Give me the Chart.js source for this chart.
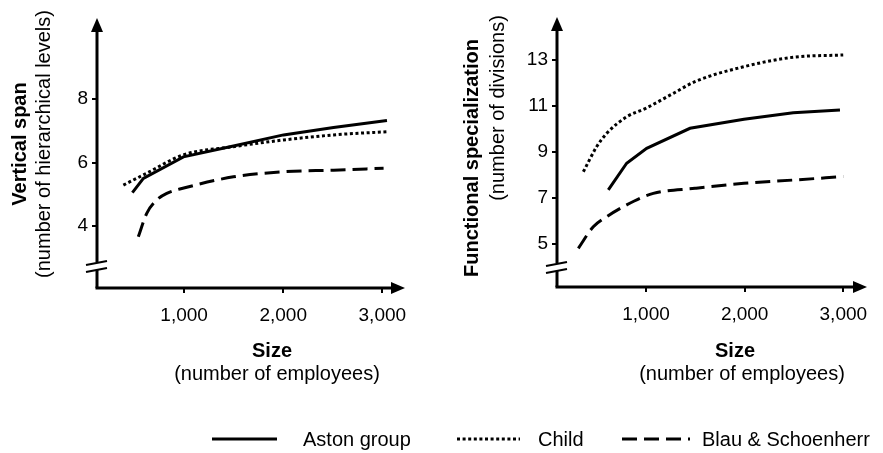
<!DOCTYPE html>
<html><head><meta charset="utf-8">
<script src="https://cdn.jsdelivr.net/npm/chart.js@4.4.1/dist/chart.umd.min.js"></script>
<style>
html,body{margin:0;padding:0;background:#fff;}
#wrap{position:relative;width:883px;height:453px;overflow:hidden;background:#fff;}
canvas{position:absolute;top:0;}
#c1{left:0;} #c2{left:440px;}
</style></head><body>
<div id="wrap">
<canvas id="c1" width="883" height="453"></canvas>
<canvas id="c2" width="443" height="453"></canvas>
</div>
<script>
// ---------- data ----------
const seriesNames = ['Aston group', 'Child', 'Blau & Schoenherr'];
const sizeTicks = [1000, 2000, 3000];
const sizeTickLabels = ['1,000', '2,000', '3,000'];

// Left panel: Vertical span (number of hierarchical levels)
const spanTicks = [4, 6, 8];
const spanAstonX = [478, 589, 993, 1498, 2003, 2508, 3047];
const spanAstonY = [5.05, 5.50, 6.18, 6.52, 6.87, 7.10, 7.32];
const spanChildX = [387, 589, 993, 1498, 2003, 2508, 3047];
const spanChildY = [5.29, 5.61, 6.24, 6.50, 6.71, 6.87, 6.97];
const spanBlauX = [538, 623, 724, 825, 1027, 1498, 2003, 2508, 3013];
const spanBlauY = [3.66, 4.40, 4.82, 5.03, 5.22, 5.55, 5.71, 5.76, 5.82];

// Right panel: Functional specialization (number of divisions)
const specTicks = [5, 7, 9, 11, 13];
const specAstonX = [618, 804, 1007, 1446, 1993, 2492, 2966];
const specAstonY = [7.35, 8.51, 9.16, 10.03, 10.42, 10.71, 10.83];
const specChildX = [365, 500, 602, 804, 997, 1277, 1496, 1993, 2492, 2999];
const specChildY = [8.14, 9.23, 9.81, 10.53, 10.90, 11.55, 12.06, 12.71, 13.12, 13.22];
const specBlauX = [314, 466, 602, 804, 1074, 1496, 1993, 2492, 2999];
const specBlauY = [4.81, 5.75, 6.19, 6.70, 7.20, 7.42, 7.64, 7.78, 7.93];

// ---------- helpers ----------
const FONT = '"Liberation Sans", Arial, Helvetica, sans-serif';
const pts = (xs, ys) => xs.map((x, i) => ({x: x, y: ys[i]}));
const styles = [
  {borderDash: [], tension: 0},
  {borderDash: [3, 2.6], tension: 0.4},
  {borderDash: [15, 7], tension: 0.4}
];
function makeDatasets(seriesX, seriesY) {
  return seriesNames.map((name, i) => ({
    label: name,
    data: pts(seriesX[i], seriesY[i]),
    borderColor: '#000',
    backgroundColor: '#000',
    borderWidth: 3,
    borderDash: styles[i].borderDash,
    borderCapStyle: 'butt',
    cubicInterpolationMode: i === 0 ? 'default' : 'monotone',
    tension: styles[i].tension,
    pointRadius: 0,
    fill: false
  }));
}

const axesPlugin = {
  id: 'axesDraw',
  afterDraw(chart, args, o) {
    const {ctx, chartArea: a} = chart;
    const X0 = a.left, Y0 = a.bottom;
    ctx.save();
    ctx.strokeStyle = '#000'; ctx.fillStyle = '#000';
    ctx.lineWidth = 3; ctx.lineCap = 'butt';
    // x axis
    ctx.beginPath(); ctx.moveTo(X0 - 1.5, Y0); ctx.lineTo(a.right - 8, Y0); ctx.stroke();
    ctx.beginPath(); ctx.moveTo(a.right, Y0); ctx.lineTo(a.right - 14, Y0 - 6); ctx.lineTo(a.right - 14, Y0 + 6); ctx.closePath(); ctx.fill();
    // y axis with break
    const brk = Y0 - o.breakOffset;
    ctx.beginPath(); ctx.moveTo(X0, a.top + 8); ctx.lineTo(X0, brk - 4); ctx.stroke();
    ctx.beginPath(); ctx.moveTo(X0, brk + 4); ctx.lineTo(X0, Y0); ctx.stroke();
    ctx.beginPath(); ctx.moveTo(X0, a.top); ctx.lineTo(X0 - 6, a.top + 14); ctx.lineTo(X0 + 6, a.top + 14); ctx.closePath(); ctx.fill();
    // break marks
    ctx.lineWidth = 2;
    ctx.beginPath(); ctx.moveTo(X0 - 11, brk - 1); ctx.lineTo(X0 + 10, brk - 5); ctx.stroke();
    ctx.beginPath(); ctx.moveTo(X0 - 11, brk + 6); ctx.lineTo(X0 + 10, brk + 2); ctx.stroke();
    // y titles (rotated)
    ctx.textAlign = 'center'; ctx.textBaseline = 'alphabetic';
    o.yTitle.forEach((t, i) => {
      ctx.save();
      ctx.translate(o.yTitleX[i], o.yTitleY[i]);
      ctx.rotate(-Math.PI / 2);
      ctx.font = (i === 0 ? 'bold ' : '') + '20px ' + FONT;
      ctx.fillText(t, 0, 0);
      ctx.restore();
    });
    // x titles
    o.xTitle.forEach((t, i) => {
      ctx.font = (i === 0 ? 'bold ' : '') + '20px ' + FONT;
      ctx.fillText(t, o.xTitleX[i], o.xTitleY[i]);
    });
    // legend
    if (o.legend) {
      const L = o.legend;
      chart.data.datasets.forEach((ds, i) => {
        ctx.lineWidth = 3;
        ctx.setLineDash(ds.borderDash || []);
        ctx.beginPath(); ctx.moveTo(L.lineX[i][0], L.y); ctx.lineTo(L.lineX[i][1], L.y); ctx.stroke();
        ctx.setLineDash([]);
        ctx.font = '20px ' + FONT; ctx.textAlign = 'left'; ctx.textBaseline = 'middle';
        ctx.fillText(ds.label, L.textX[i], L.y + 1);
      });
    }
    ctx.restore();
  }
};

function makeChart(id, datasets, xr, yr, yTicks, pad, yWidth, o) {
  return new Chart(document.getElementById(id), {
    type: 'line',
    data: {datasets},
    options: {
      responsive: false, animation: false, devicePixelRatio: 1,
      layout: {padding: pad},
      plugins: {legend: {display: false}, tooltip: {enabled: false}, axesDraw: o},
      scales: {
        x: {
          type: 'linear', min: xr[0], max: xr[1],
          afterFit: s => { s.height = 453 - o.bottomPx; },
          afterBuildTicks: s => { s.ticks = sizeTicks.map(v => ({value: v})); },
          ticks: {
            callback: v => sizeTickLabels[sizeTicks.indexOf(v)],
            color: '#000', font: {family: FONT, size: 19}, padding: 11,
            maxRotation: 0, autoSkip: false
          },
          grid: {display: true, drawOnChartArea: false, drawTicks: true, tickLength: 5, color: '#000', lineWidth: 2},
          border: {display: false}
        },
        y: {
          type: 'linear', min: yr[0], max: yr[1],
          afterFit: s => { s.width = yWidth; },
          afterBuildTicks: s => { s.ticks = yTicks.map(v => ({value: v})); },
          ticks: {color: '#000', font: {family: FONT, size: 19}, padding: 4},
          grid: {display: true, drawOnChartArea: false, drawTicks: true, tickLength: 5, color: '#000', lineWidth: 2},
          border: {display: false}
        }
      }
    },
    plugins: [axesPlugin]
  });
}

// Left chart (canvas spans the full width so it can also host the shared legend)
makeChart('c1',
  makeDatasets([spanAstonX, spanChildX, spanBlauX], [spanAstonY, spanChildY, spanBlauY]),
  [121, 3229], [2.05, 10.55], spanTicks,
  {left: 0, top: 18, right: 883 - 405, bottom: 0}, 97,
  {
    bottomPx: 288, breakOffset: 22,
    yTitle: ['Vertical span', '(number of hierarchical levels)'],
    yTitleX: [26, 50], yTitleY: [144, 144],
    xTitle: ['Size', '(number of employees)'],
    xTitleX: [272, 277], xTitleY: [357, 380],
    legend: {y: 439, lineX: [[212, 277], [457, 520], [622, 690]], textX: [303, 538, 702]}
  });

// Right chart
makeChart('c2',
  makeDatasets([specAstonX, specChildX, specBlauX], [specAstonY, specChildY, specBlauY]),
  [98, 3240], [3.13, 14.87], specTicks,
  {left: 0, top: 17, right: 443 - 427, bottom: 0}, 117,
  {
    bottomPx: 287, breakOffset: 20,
    yTitle: ['Functional specialization', '(number of divisions)'],
    yTitleX: [38, 64], yTitleY: [158, 108],
    xTitle: ['Size', '(number of employees)'],
    xTitleX: [295, 302], xTitleY: [357, 380]
  });
</script>
</body></html>
